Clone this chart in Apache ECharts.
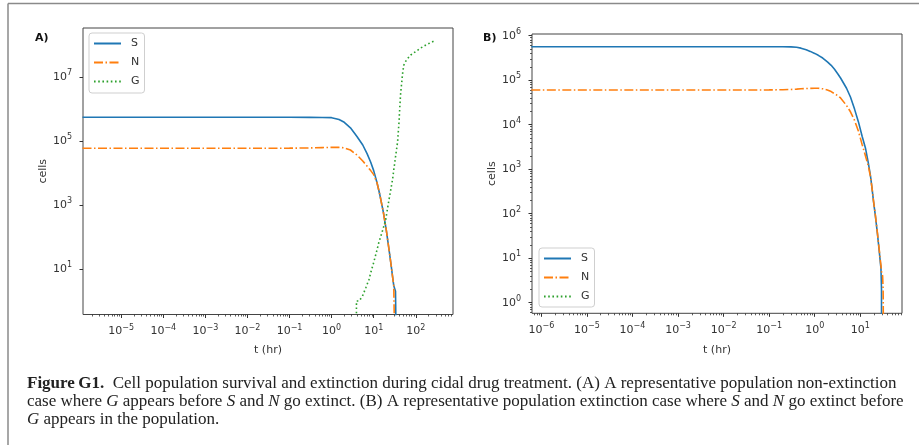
<!DOCTYPE html>
<html>
<head>
<meta charset="utf-8">
<script src="https://cdn.jsdelivr.net/npm/echarts@6/dist/echarts.min.js"></script>
<style>
  html, body { margin: 0; padding: 0; background: #fff; }
  #chart { width: 919px; height: 445px; }
</style>
</head>
<body>
<div id="chart"></div>
<script>
// ---- Panel A: non-extinction run (t in hours, counts in cells) ----
const tA  = [1.2e-6, 1e-5, 1e-4, 1e-3, 1e-2, 0.1, 0.3, 0.6, 1, 1.5, 2, 2.8, 4, 5.5, 7, 8.5, 10, 12, 14, 17, 20, 23, 26, 28, 30, 31.5, 33, 35.5, 35.6];
const sA  = [560000, 560000, 560000, 560000, 560000, 560000, 558000, 552000, 545000, 480000, 390000, 263000, 141000, 76000, 40000, 22000, 12000, 5000, 2100, 590, 160, 43, 13, 6, 3, 3, 2, 2, 0];
const nA  = [60000, 60000, 60000, 60000, 60000, 60500, 61500, 63000, 64000, 64000, 62000, 53000, 37000, 24000, 16500, 12000, 9000, 5000, 2100, 590, 160, 43, 13, 6, 3, 3, 0, 0, 0];
const tGA = [1.2e-6, 3.8, 3.9, 4.5, 5.4, 6.5, 7.7, 8.8, 10, 11.5, 13.2, 16, 19.3, 22, 25.4, 28, 30, 33, 37, 40, 42, 44, 46.5, 49, 52, 60, 76, 100, 132, 180, 269];
const gA  = [0, 0, 1, 1, 1.4, 2.6, 4.6, 9, 16, 32, 66, 148, 350, 1000, 3000, 6200, 12600, 32000, 96000, 400000, 1350000, 3500000, 7100000, 14500000, 24000000, 35000000, 50000000, 64000000, 83000000, 105000000, 135000000];

// ---- Panel B: extinction run ----
const tB = [6e-7, 1e-5, 1e-4, 1e-3, 1e-2, 0.1, 0.2, 0.3, 0.4, 0.5, 0.65, 0.8, 1.0, 1.2, 1.5, 1.9, 2.3, 2.7, 3.2, 3.7, 5, 6.1, 7.5, 9.1, 11, 13, 15, 16.7, 18, 19.5, 21.5, 23.9, 26.4, 28, 28.5, 29.3, 29.5, 31, 31.8, 32, 32.5];
const sB = [565000, 565000, 565000, 565000, 565000, 565000, 565000, 562000, 548000, 525000, 482000, 444000, 400000, 362000, 315000, 259000, 216000, 178000, 140000, 112000, 66000, 42000, 22400, 11700, 5500, 3000, 1400, 740, 400, 195, 89, 35, 13, 7, 6, 2, 0, 0, 0, 0, 0];
const nB = [60000, 60000, 60000, 60000, 60000, 60500, 61000, 62000, 63000, 64000, 65000, 65500, 66000, 66000, 64000, 60000, 55500, 50000, 45000, 40000, 27000, 19500, 12500, 7200, 3600, 2000, 1200, 700, 400, 200, 93, 36, 14, 8, 7, 5, 5, 4, 2, 1, 0];
const gB = [0, 0, 0, 0, 0, 0, 0, 0, 0, 0, 0, 0, 0, 0, 0, 0, 0, 0, 0, 0, 0, 0, 0, 0, 0, 0, 0, 0, 0, 0, 0, 0, 0, 0, 0, 0, 0, 0, 0, 0, 0];

// ---- Labelled (major) ticks ----
const xTicksA = [1e-5, 1e-4, 1e-3, 1e-2, 1e-1, 1e0, 1e1, 1e2];
const yTicksA = [1e1, 1e3, 1e5, 1e7];
const xTicksB = [1e-6, 1e-5, 1e-4, 1e-3, 1e-2, 1e-1, 1e0, 1e1];
const yTicksB = [1e0, 1e1, 1e2, 1e3, 1e4, 1e5, 1e6];

const seriesNames = ['S', 'N', 'G'];
const caption = [
  '{b|Figure\u2009G1.}  Cell population survival and extinction during cidal drug treatment. (A) A representative population non-extinction',
  'case where {i|G} appears before {i|S} and {i|N} go extinct. (B) A representative population extinction case where {i|S} and {i|N} go extinct before',
  '{i|G} appears in the population.'
];

// ---- styling ----
const COLORS = { S: '#1f77b4', N: '#ff7f0e', G: '#2ca02c' };
const DASH = { S: 'solid', N: [9, 2.5, 1.5, 2.5], G: [1.6, 2.6] };
const INK = '#333';
const FONT = 'DejaVu Sans';
const SERIF = 'Liberation Serif';
const CAPTION_SIZE = 17;
const FLOOR = 1e-3; // zero counts sit below every axis minimum, so the line runs off the bottom

const range = (lo, hi) => [Math.pow(10, lo), Math.pow(10, hi)];
const axA = { x: range(-5.909, 2.885), y: range(-0.424, 8.543) };
const axB = { x: range(-6.207, 1.917), y: range(-0.238, 6.038) };

function pairs(t, v) {
  return t.map((x, i) => [x, v[i] > 0 ? v[i] : FLOOR]);
}

function minorTicks(lim) {
  const out = [];
  for (let e = Math.floor(Math.log10(lim[0])); e <= Math.ceil(Math.log10(lim[1])); e++) {
    for (let m = 2; m <= 9; m++) {
      const v = m * Math.pow(10, e);
      if (v > lim[0] && v < lim[1]) out.push(v);
    }
  }
  return out;
}

const powLabel = v => {
  const e = Math.round(Math.log10(v));
  return '{b|10}{e|' + (e < 0 ? '\u2212' + (-e) : String(e)) + '}';
};
const richTick = {
  b: { fontSize: 11, lineHeight: 16, color: INK, fontFamily: FONT },
  e: { fontSize: 8, lineHeight: 8, verticalAlign: 'top', color: INK, fontFamily: FONT }
};

function majorAxis(gridIndex, lim, ticks, isX, name, nameGap) {
  return {
    type: 'log', logBase: 10, gridIndex,
    min: lim[0], max: lim[1],
    position: isX ? 'bottom' : 'left',
    name, nameLocation: 'middle', nameGap,
    nameTextStyle: { fontSize: 11, color: INK, fontFamily: FONT },
    axisLine: { show: false },
    axisTick: { show: true, length: 3.5, customValues: ticks, lineStyle: { color: INK, width: 1 } },
    axisLabel: { show: true, customValues: ticks, formatter: powLabel, rich: richTick, margin: isX ? 9 : 11 },
    splitLine: { show: false },
    minorTick: { show: false }
  };
}

function minorAxis(gridIndex, lim, isX) {
  return {
    type: 'log', logBase: 10, gridIndex,
    min: lim[0], max: lim[1],
    position: isX ? 'bottom' : 'left',
    axisLine: { show: false },
    axisTick: { show: true, length: 2, customValues: minorTicks(lim), lineStyle: { color: INK, width: 0.8 } },
    axisLabel: { show: false },
    splitLine: { show: false }
  };
}

function lineSeries(name, xi, yi, data) {
  return {
    name, type: 'line', xAxisIndex: xi, yAxisIndex: yi,
    data, symbol: 'none', showSymbol: false, clip: true,
    lineStyle: { color: COLORS[name], width: 1.6, type: DASH[name], cap: 'butt' },
    itemStyle: { color: COLORS[name] },
    emphasis: { disabled: true },
    animation: false
  };
}

function legendAt(left, top, padding) {
  return {
    data: seriesNames, orient: 'vertical', left, top,
    itemWidth: 27, itemHeight: 12, itemGap: 8, padding,
    backgroundColor: '#fff', borderColor: '#cfcfcf', borderWidth: 1, borderRadius: 3,
    selectedMode: false,
    itemStyle: { opacity: 0 },
    textStyle: { fontSize: 11, color: INK, fontFamily: FONT, padding: [0, 0, 0, 5] }
  };
}

const captionRich = {
  b: { fontWeight: 'bold', fontSize: CAPTION_SIZE, fontFamily: SERIF, fill: '#222' },
  i: { fontStyle: 'italic', fontSize: CAPTION_SIZE, fontFamily: SERIF, fill: '#222' }
};

const chart = echarts.init(document.getElementById('chart'), null, { renderer: 'canvas' });
chart.setOption({
  backgroundColor: '#fff',
  animation: false,
  title: [
    { text: 'A)', left: 35, top: 33, padding: 0, textStyle: { fontSize: 11, fontWeight: 'bold', color: '#111', fontFamily: FONT } },
    { text: 'B)', left: 483, top: 33, padding: 0, textStyle: { fontSize: 11, fontWeight: 'bold', color: '#111', fontFamily: FONT } }
  ],
  grid: [
    { left: 83, top: 28, width: 370, height: 286.5, show: true, borderColor: '#444', borderWidth: 1, backgroundColor: 'transparent' },
    { left: 532, top: 34, width: 370, height: 279.3, show: true, borderColor: '#444', borderWidth: 1, backgroundColor: 'transparent' }
  ],
  xAxis: [
    majorAxis(0, axA.x, xTicksA, true, 't (hr)', 30),
    minorAxis(0, axA.x, true),
    majorAxis(1, axB.x, xTicksB, true, 't (hr)', 31),
    minorAxis(1, axB.x, true)
  ],
  yAxis: [
    majorAxis(0, axA.y, yTicksA, false, 'cells', 34),
    majorAxis(1, axB.y, yTicksB, false, 'cells', 34),
    minorAxis(1, axB.y, false)
  ],
  legend: [legendAt(89, 33, [5, 5, 6, 4]), legendAt(539, 248, [5, 5, 5, 4])],
  series: [
    lineSeries('S', 0, 0, pairs(tA, sA)),
    lineSeries('N', 0, 0, pairs(tA, nA)),
    lineSeries('G', 0, 0, pairs(tGA, gA)),
    lineSeries('S', 2, 1, pairs(tB, sB)),
    lineSeries('N', 2, 1, pairs(tB, nB)),
    lineSeries('G', 2, 1, pairs(tB, gB))
  ],
  graphic: [
    { type: 'line', shape: { x1: 8, y1: 3.5, x2: 919, y2: 3.5 }, style: { stroke: '#8a8a8a', lineWidth: 1.5 }, silent: true },
    { type: 'line', shape: { x1: 8, y1: 3.5, x2: 8, y2: 445 }, style: { stroke: '#8a8a8a', lineWidth: 1.5 }, silent: true }
  ].concat(caption.map((line, k) => ({
    type: 'text', x: 27, y: 384 + 18 * k, silent: true,
    style: {
      text: line, rich: captionRich, verticalAlign: 'middle', align: 'left',
      fontSize: CAPTION_SIZE, fontFamily: SERIF, fill: '#222'
    }
  })))
});
</script>
</body>
</html>
